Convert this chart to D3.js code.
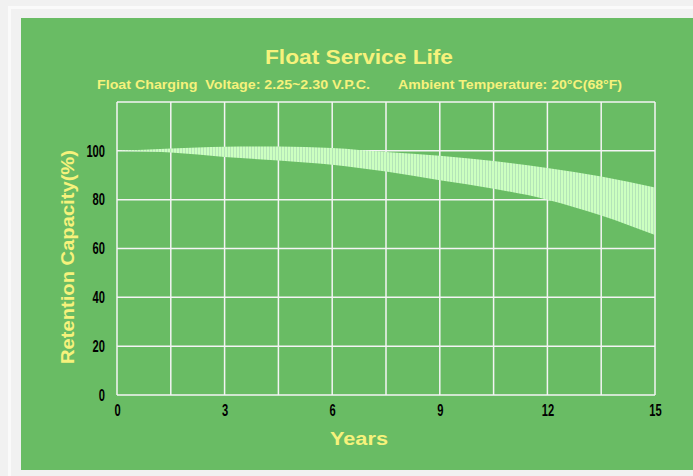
<!DOCTYPE html>
<html>
<head>
<meta charset="utf-8">
<script src="https://cdn.jsdelivr.net/npm/d3@7"></script>
<style>
  body { margin: 0; background: #f1f1f1; }
  svg { display: block; }
  text { white-space: pre; }
</style>
</head>
<body>
<svg id="chart" width="693" height="476"></svg>
<script>
// values
var years = [0, 1.5, 3, 4.5, 6, 7.5, 9, 10.5, 12, 13.5, 15];
var upperCapacity = [100, 101, 101.7, 101.8, 101.2, 99.5, 98, 95.8, 93, 89.5, 85];
var lowerCapacity = [100, 99.3, 97.5, 96, 94.3, 91.5, 88, 84.5, 80, 73.5, 65.5];
var xTicks = [0, 3, 6, 9, 12, 15];
var yTicks = [0, 20, 40, 60, 80, 100];
var xGrid = [0, 1.5, 3, 4.5, 6, 7.5, 9, 10.5, 12, 13.5, 15];
var yGrid = [0, 20, 40, 60, 80, 100, 120];

var svg = d3.select("#chart");
var yellow = "#f6f27c";

// page frame
svg.append("rect").attr("x", 9.5).attr("y", 7.5).attr("width", 700).attr("height", 480)
    .attr("fill", "none").attr("stroke", "#fafafa").attr("stroke-width", 3);
svg.append("rect").attr("x", 21).attr("y", 18).attr("width", 680).attr("height", 452)
    .attr("fill", "#69bc64");

var defs = svg.append("defs");
var pat = defs.append("pattern").attr("id", "stripes")
    .attr("patternUnits", "userSpaceOnUse").attr("width", 3).attr("height", 10);
pat.append("rect").attr("width", 3).attr("height", 10).attr("fill", "#ccffc0");
pat.append("rect").attr("x", 2).attr("width", 1).attr("height", 10).attr("fill", "#b4e4b8");

var x = d3.scaleLinear().domain([0, 15]).range([117, 655]);
var y = d3.scaleLinear().domain([0, 120]).range([395, 102]);

// grid
var grid = svg.append("g").attr("stroke", "#f4f4f4").attr("stroke-width", 1.5);
grid.selectAll(".gx").data(xGrid).enter().append("line")
    .attr("x1", function(d) { return x(d); }).attr("x2", function(d) { return x(d); })
    .attr("y1", y(0)).attr("y2", y(120));
grid.selectAll(".gy").data(yGrid).enter().append("line")
    .attr("y1", function(d) { return y(d); }).attr("y2", function(d) { return y(d); })
    .attr("x1", x(0)).attr("x2", x(15));

// retention band
var band = years.map(function(d, i) { return {year: d, hi: upperCapacity[i], lo: lowerCapacity[i]}; });
var area = d3.area()
    .x(function(d) { return x(d.year); })
    .y0(function(d) { return y(d.lo); })
    .y1(function(d) { return y(d.hi); })
    .curve(d3.curveMonotoneX);
svg.append("path").datum(band).attr("d", area).attr("fill", "url(#stripes)");

// axes (labels squeezed to look like a narrow bold face)
var font = "'Liberation Sans', Arial, sans-serif";
var xAxis = svg.append("g").attr("transform", "translate(0," + 395 + ")")
    .call(d3.axisBottom(x).tickValues(xTicks).tickSize(0).tickPadding(9));
var yAxis = svg.append("g").attr("transform", "translate(" + 117 + ",0)")
    .call(d3.axisLeft(y).tickValues(yTicks).tickSize(0).tickPadding(12));
[xAxis, yAxis].forEach(function(a) {
    a.select(".domain").remove();
    a.selectAll("text").attr("fill", "#000").style("font-family", font)
        .style("font-weight", "bold").style("font-size", "16.5px")
        .attr("textLength", function(d) { return String(d).length * 6.2; })
        .attr("lengthAdjust", "spacingAndGlyphs");
});

// titles
svg.append("text").attr("x", 359).attr("y", 64).attr("text-anchor", "middle")
    .attr("fill", yellow).style("font-family", font)
    .style("font-weight", "bold").style("font-size", "20px")
    .attr("textLength", 188).attr("lengthAdjust", "spacingAndGlyphs")
    .text("Float Service Life");
svg.append("text").attr("x", 97).attr("y", 89)
    .attr("fill", yellow).style("font-family", font)
    .style("font-weight", "bold").style("font-size", "13px")
    .attr("textLength", 273).attr("lengthAdjust", "spacingAndGlyphs")
    .text("Float Charging  Voltage: 2.25~2.30 V.P.C.");
svg.append("text").attr("x", 398).attr("y", 89)
    .attr("fill", yellow).style("font-family", font)
    .style("font-weight", "bold").style("font-size", "13px")
    .attr("textLength", 224).attr("lengthAdjust", "spacingAndGlyphs")
    .text("Ambient Temperature: 20°C(68°F)");
svg.append("text").attr("x", 359).attr("y", 445).attr("text-anchor", "middle")
    .attr("fill", yellow).style("font-family", font)
    .style("font-weight", "bold").style("font-size", "18px")
    .attr("textLength", 58).attr("lengthAdjust", "spacingAndGlyphs")
    .text("Years");
svg.append("text").attr("transform", "translate(74,257) rotate(-90)").attr("text-anchor", "middle")
    .attr("fill", yellow).style("font-family", font)
    .style("font-weight", "bold").style("font-size", "19px")
    .attr("textLength", 214).attr("lengthAdjust", "spacingAndGlyphs")
    .text("Retention Capacity(%)");
</script>
</body>
</html>
